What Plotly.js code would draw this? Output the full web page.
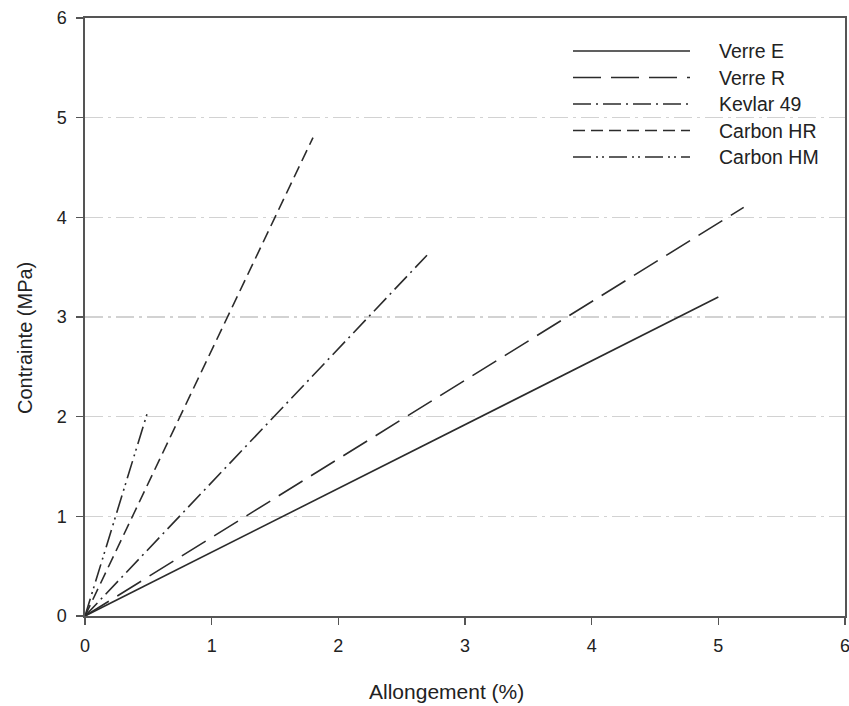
<!DOCTYPE html>
<html>
<head>
<meta charset="utf-8">
<script src="https://cdn.plot.ly/plotly-3.0.1.min.js"></script>
<style>
  html, body { margin: 0; padding: 0; background: #fff; }
  #chart { width: 849px; height: 706px; }
</style>
</head>
<body>
<div id="chart"></div>
<script>
// Stress–strain curves of reinforcement fibres (linear up to rupture)
const fibres = ["Verre E", "Verre R", "Kevlar 49", "Carbon HR", "Carbon HM"];
const strain = [
  [0, 5.0],
  [0, 5.2],
  [0, 2.7],
  [0, 1.8],
  [0, 0.5]
];
const stress = [
  [0, 3.2],
  [0, 4.1],
  [0, 3.62],
  [0, 4.8],
  [0, 2.07]
];
const xTicks = [0, 1, 2, 3, 4, 5, 6];
const yTicks = [0, 1, 2, 3, 4, 5, 6];
const xTitle = "Allongement (%)";
const yTitle = "Contrainte (MPa)";

const dashes = [
  "solid",
  "28px,10px",
  "18px,5px,2px,5px",
  "12px,6px",
  "18px,5px,2px,4px,2px,5px"
];
const ink = "#2b2b2b";
const font = "Liberation Sans, Arial, sans-serif";

const traces = fibres.map((name, i) => ({
  x: strain[i],
  y: stress[i],
  name: name,
  type: "scatter",
  mode: "lines",
  line: { color: ink, width: 1.6, dash: dashes[i] },
  showlegend: false,
  hoverinfo: "x+y+name"
}));

// Page-pixel helpers for the legend block and the axis titles
const W = 849, H = 706, mL = 85, mR = 4, mT = 18, mB = 90;
const pw = W - mL - mR, ph = H - mT - mB;
const px = v => (v - mL) / pw;
const py = v => 1 - (v - mT) / ph;

// Legend drawn as line samples + labels in the upper right of the plot
const shapes = [];
const annotations = [];
const legX0 = 573, legX1 = 690, legTextX = 717, legY0 = 51, legStep = 26.5;
fibres.forEach((name, i) => {
  const yy = py(legY0 + i * legStep);
  shapes.push({
    type: "line", xref: "paper", yref: "paper",
    x0: px(legX0), x1: px(legX1), y0: yy, y1: yy,
    line: { color: ink, width: 1.6, dash: dashes[i] }
  });
  annotations.push({
    xref: "paper", yref: "paper", x: px(legTextX), y: yy,
    xanchor: "left", yanchor: "middle", showarrow: false,
    text: name, font: { family: font, size: 19.5, color: "#222" }
  });
});

// Axis titles
annotations.push({
  xref: "paper", yref: "paper", x: px(446), y: py(691),
  xanchor: "center", yanchor: "middle", showarrow: false,
  text: xTitle, font: { family: font, size: 21, color: "#222" }
});
annotations.push({
  xref: "paper", yref: "paper", x: px(25), y: py(338),
  xanchor: "center", yanchor: "middle", showarrow: false, textangle: -90,
  text: yTitle, font: { family: font, size: 20, color: "#222" }
});

const axisCommon = {
  range: [0, 6],
  showline: true, mirror: true,
  linecolor: "#555", linewidth: 1.6,
  ticks: "outside", ticklen: 7, tickwidth: 1.5, tickcolor: "#555",
  tickfont: { family: font, size: 18, color: "#222" },
  ticklabeloverflow: "allow",
  ticklabelstandoff: 6,
  zeroline: false,
  fixedrange: true
};

const layout = {
  width: W, height: H,
  margin: { l: mL, r: mR, t: mT, b: mB },
  paper_bgcolor: "#fff",
  plot_bgcolor: "#fff",
  showlegend: false,
  xaxis: Object.assign({}, axisCommon, {
    tickvals: xTicks,
    showgrid: false
  }),
  yaxis: Object.assign({}, axisCommon, {
    tickvals: yTicks,
    showgrid: true,
    gridcolor: "#d2d2d2", gridwidth: 1.6,
    griddash: "18px,5px,3px,5px"
  }),
  shapes: shapes,
  annotations: annotations
};

Plotly.newPlot("chart", traces, layout, { displayModeBar: false, staticPlot: true });
</script>
</body>
</html>
